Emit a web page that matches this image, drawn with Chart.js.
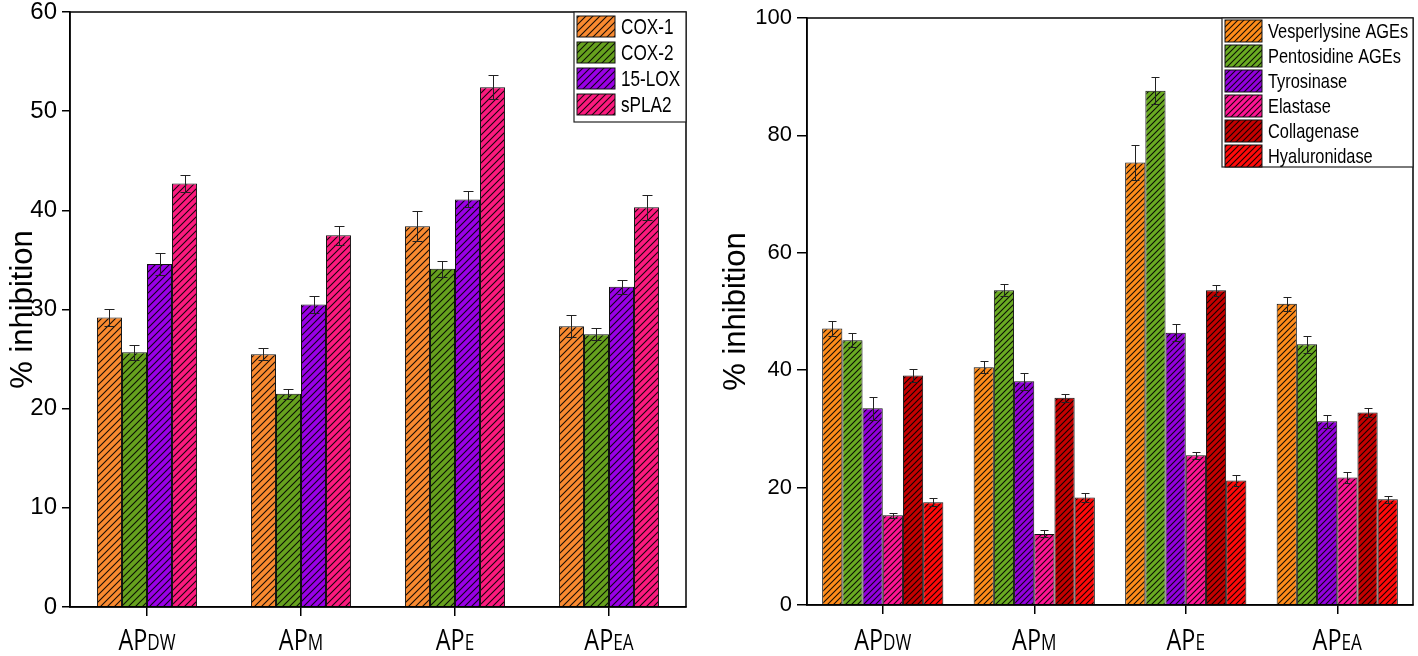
<!DOCTYPE html>
<html>
<head>
<meta charset="utf-8">
<script src="https://cdn.jsdelivr.net/npm/chart.js@4.4.1/dist/chart.umd.min.js"></script>
<style>
  html, body { margin: 0; padding: 0; background: #fff; }
  #c1 { position: absolute; left: 0; top: 0; }
  #c2 { position: absolute; left: 700px; top: 0; }
</style>
</head>
<body>
<canvas id="c1" width="700" height="656"></canvas>
<canvas id="c2" width="718" height="656"></canvas>
<script>
// categories (first two letters big, rest drawn small)
const groups = ['APDW', 'APM', 'APE', 'APEA'];

// left panel: inflammation enzymes
const inflamNames = ['COX-1', 'COX-2', '15-LOX', 'sPLA2'];
const cox1 = [29.2, 25.5, 38.4, 28.3];
const cox1Err = [0.9, 0.6, 1.5, 1.1];
const cox2 = [25.7, 21.5, 34.1, 27.5];
const cox2Err = [0.75, 0.5, 0.8, 0.6];
const lox15 = [34.6, 30.5, 41.1, 32.3];
const lox15Err = [1.1, 0.9, 0.8, 0.7];
const spla2 = [42.7, 37.5, 52.4, 40.3];
const spla2Err = [0.9, 0.95, 1.2, 1.25];
const leftTicks = [0, 10, 20, 30, 40, 50, 60];

// right panel: skin ageing enzymes
const ageNames = ['Vesperlysine AGEs', 'Pentosidine AGEs', 'Tyrosinase', 'Elastase', 'Collagenase', 'Hyaluronidase'];
const vesp = [47.1, 40.5, 75.4, 51.3];
const vespErr = [1.3, 1.0, 3.0, 1.2];
const pent = [45.1, 53.6, 87.6, 44.4];
const pentErr = [1.2, 1.0, 2.3, 1.4];
const tyro = [33.5, 38.1, 46.4, 31.3];
const tyroErr = [2.0, 1.4, 1.4, 1.1];
const elas = [15.3, 12.1, 25.5, 21.7];
const elasErr = [0.4, 0.6, 0.6, 1.0];
const coll = [39.1, 35.3, 53.6, 32.8];
const collErr = [1.1, 0.7, 0.9, 0.8];
const hyal = [17.5, 18.3, 21.2, 18.0];
const hyalErr = [0.7, 0.7, 1.0, 0.6];
const rightTicks = [0, 20, 40, 60, 80, 100];

const SQUEEZE = 0.78; // the figure text is horizontally compressed
const NARROW = "'Liberation Sans Narrow', 'Liberation Sans', Arial, sans-serif";
const SANS = "'Liberation Sans', Arial, sans-serif";

function hatch(ctx, color, size) {
    const c = document.createElement('canvas');
    c.width = size; c.height = size;
    const g = c.getContext('2d');
    g.fillStyle = color;
    g.fillRect(0, 0, size, size);
    g.strokeStyle = 'rgba(0,0,0,0.9)';
    g.lineWidth = 1.1;
    g.beginPath();
    g.moveTo(0, size); g.lineTo(size, 0);
    g.moveTo(-2, 2); g.lineTo(2, -2);
    g.moveTo(size - 2, size + 2); g.lineTo(size + 2, size - 2);
    g.stroke();
    return ctx.createPattern(c, 'repeat');
}

// error bars from each dataset's "errors" array
const errorBars = {
    id: 'errorBars',
    afterDatasetsDraw(chart, args, opts) {
        const ctx = chart.ctx, y = chart.scales.y;
        ctx.save();
        ctx.strokeStyle = '#222';
        ctx.lineWidth = 1;
        chart.data.datasets.forEach((ds, i) => {
            chart.getDatasetMeta(i).data.forEach((bar, j) => {
                const v = ds.data[j], e = ds.errors[j];
                const top = Math.round(y.getPixelForValue(v + e)) + 0.5;
                const bot = Math.round(y.getPixelForValue(v - e)) + 0.5;
                const x = Math.round(bar.x) + 0.5, w = opts.cap / 2;
                ctx.beginPath();
                ctx.moveTo(x, top); ctx.lineTo(x, bot);
                ctx.moveTo(x - w, top); ctx.lineTo(x + w, top);
                ctx.moveTo(x - w, bot); ctx.lineTo(x + w, bot);
                ctx.stroke();
            });
        });
        ctx.restore();
    }
};

// frame, boxed legend and AP-style category labels
const decor = {
    id: 'decor',
    afterDraw(chart, args, opts) {
        const ctx = chart.ctx, a = chart.chartArea;
        ctx.save();
        ctx.strokeStyle = '#000';
        ctx.lineWidth = 1.5;
        ctx.strokeRect(a.left, a.top, a.right - a.left, a.bottom - a.top);

        // category labels
        const xs = chart.scales.x;
        ctx.fillStyle = '#000';
        ctx.textBaseline = 'alphabetic';
        chart.data.labels.forEach((lab, i) => {
            const big = lab.slice(0, 2), small = lab.slice(2);
            ctx.font = opts.bigFont;
            const wb = ctx.measureText(big).width;
            ctx.font = opts.smallFont;
            const ws = ctx.measureText(small).width;
            const cx = xs.getPixelForValue(i);
            const start = cx - (wb + ws) * SQUEEZE / 2;
            ctx.save();
            ctx.translate(start, opts.labelY);
            ctx.scale(SQUEEZE, 1);
            ctx.font = opts.bigFont;
            ctx.fillText(big, 0, 0);
            ctx.font = opts.smallFont;
            ctx.fillText(small, wb, 0);
            ctx.restore();
        });

        // legend box
        const L = opts.legend;
        ctx.fillStyle = '#fff';
        ctx.fillRect(L.left, L.top, L.right - L.left, L.bottom - L.top);
        ctx.strokeStyle = '#222';
        ctx.lineWidth = 1.2;
        ctx.strokeRect(L.left, L.top, L.right - L.left, L.bottom - L.top);
        chart.data.datasets.forEach((ds, i) => {
            const y0 = L.top + L.pad + i * L.row;
            ctx.fillStyle = ds.backgroundColor;
            ctx.fillRect(L.left + 3, y0, L.sw, L.sh);
            ctx.strokeStyle = '#111';
            ctx.lineWidth = 1;
            ctx.strokeRect(L.left + 3, y0, L.sw, L.sh);
            ctx.save();
            ctx.translate(L.left + 3 + L.sw + 6, y0 + L.sh / 2 + 1);
            ctx.scale(SQUEEZE, 1);
            ctx.fillStyle = '#000';
            ctx.font = L.font;
            ctx.textBaseline = 'middle';
            ctx.fillText(ds.label, 0, 0);
            ctx.restore();
        });
        ctx.restore();
    }
};

function makeChart(canvasId, names, series, errs, colors, ticks, cfg) {
    const ctx = document.getElementById(canvasId).getContext('2d');
    const datasets = names.map((n, i) => ({
        label: n,
        data: series[i],
        errors: errs[i],
        backgroundColor: hatch(ctx, colors[i], cfg.hatch),
        borderColor: '#111',
        borderWidth: 1,
        borderSkipped: 'bottom',
        barPercentage: 1,
        categoryPercentage: cfg.catPct
    }));
    return new Chart(ctx, {
        type: 'bar',
        data: { labels: groups, datasets: datasets },
        plugins: [errorBars, decor],
        options: {
            responsive: false,
            animation: false,
            layout: { padding: cfg.padding },
            plugins: {
                legend: { display: false },
                tooltip: { enabled: false },
                errorBars: { cap: cfg.cap },
                decor: cfg.decor
            },
            scales: {
                x: {
                    grid: { drawOnChartArea: false, drawTicks: true, tickLength: 9, color: '#000', offset: false, lineWidth: 1.5 },
                    border: { color: '#000', width: 1.5 },
                    ticks: { display: false },
                    afterFit(s) { s.height = cfg.xHeight; }
                },
                y: {
                    min: ticks[0],
                    max: ticks[ticks.length - 1],
                    afterBuildTicks(s) { s.ticks = ticks.map(v => ({ value: v })); },
                    grid: { drawOnChartArea: false, tickLength: cfg.tickLen, color: '#000', lineWidth: 1.5 },
                    border: { color: '#000', width: 1.5 },
                    ticks: { color: '#000', padding: 5, font: { family: NARROW, size: cfg.tickSize } },
                    title: {
                        display: true, text: '% inhibition', color: '#000',
                        font: { family: NARROW, size: 31 },
                        padding: { top: cfg.titlePad, bottom: 0 }
                    },
                    afterFit(s) { s.width = cfg.yWidth; s.paddingTop = 0; s.paddingBottom = 0; }
                }
            }
        }
    });
}

makeChart('c1', inflamNames,
    [cox1, cox2, lox15, spla2],
    [cox1Err, cox2Err, lox15Err, spla2Err],
    ['#F98A30', '#66A11E', '#9A00E6', '#FC1A7E'],
    leftTicks,
    {
        hatch: 7, catPct: 0.65, cap: 10, tickLen: 8, tickSize: 24,
        padding: { left: 0, right: 14, top: 12, bottom: 0 },
        xHeight: 49, yWidth: 70, titlePad: 5,
        decor: {
            labelY: 650,
            bigFont: "30px 'Open Sans', sans-serif",
            smallFont: "22px 'Open Sans', sans-serif",
            legend: { left: 574, top: 12, right: 686, bottom: 122, pad: 4, row: 26, sw: 38, sh: 21, font: '22px ' + SANS }
        }
    });

makeChart('c2', ageNames,
    [vesp, pent, tyro, elas, coll, hyal],
    [vespErr, pentErr, tyroErr, elasErr, collErr, hyalErr],
    ['#FF8C1A', '#6AAB22', '#9300DC', '#FF1493', '#C40000', '#FF0A0A'],
    rightTicks,
    {
        hatch: 6, catPct: 0.8, cap: 8, tickLen: 10, tickSize: 22,
        padding: { left: 0, right: 5, top: 18, bottom: 0 },
        xHeight: 51, yWidth: 107, titlePad: 18,
        decor: {
            labelY: 650,
            bigFont: "30px 'Open Sans', sans-serif",
            smallFont: "22px 'Open Sans', sans-serif",
            legend: { left: 522, top: 18, right: 713, bottom: 167, pad: 2, row: 25, sw: 37, sh: 22, font: '21px ' + SANS }
        }
    });
</script>
</body>
</html>
